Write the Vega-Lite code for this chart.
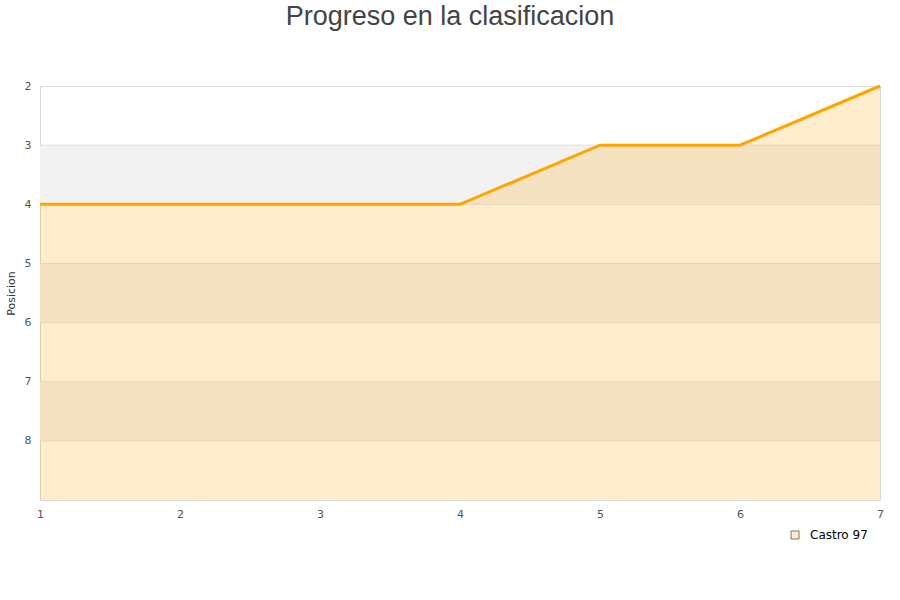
{
  "$schema": "https://vega.github.io/schema/vega-lite/v6.json",
  "autosize": "none",
  "width": 840,
  "height": 414,
  "padding": {"left": 40, "top": 86, "right": 20, "bottom": 100},
  "background": "white",
  "title": {
    "text": "Progreso en la clasificacion",
    "font": "Liberation Sans",
    "fontSize": 27,
    "fontWeight": "normal",
    "color": "#444444",
    "anchor": "middle",
    "dx": -10,
    "offset": 49
  },
  "config": {
    "view": {"stroke": "#d8d8d8", "strokeWidth": 1},
    "axis": {"labelFont": "DejaVu Sans", "titleFont": "DejaVu Sans"}
  },
  "datasets": {
    "progreso": [
      {"jornada": 1, "posicion": 4, "equipo": "Castro 97"},
      {"jornada": 2, "posicion": 4, "equipo": "Castro 97"},
      {"jornada": 3, "posicion": 4, "equipo": "Castro 97"},
      {"jornada": 4, "posicion": 4, "equipo": "Castro 97"},
      {"jornada": 5, "posicion": 3, "equipo": "Castro 97"},
      {"jornada": 6, "posicion": 3, "equipo": "Castro 97"},
      {"jornada": 7, "posicion": 2, "equipo": "Castro 97"}
    ],
    "bandas": [
      {"desde": 3, "hasta": 4},
      {"desde": 5, "hasta": 6},
      {"desde": 7, "hasta": 8}
    ],
    "rejilla": [
      {"nivel": 3}, {"nivel": 4}, {"nivel": 5}, {"nivel": 6}, {"nivel": 7}, {"nivel": 8}
    ]
  },
  "layer": [
    {
      "data": {"name": "bandas"},
      "mark": {"type": "rect", "fill": "#f2f2f2"},
      "encoding": {
        "y": {
          "field": "desde", "type": "quantitative",
          "scale": {"domain": [2, 9], "reverse": true, "zero": false, "nice": false},
          "axis": {
            "title": "Posicion",
            "titleFontSize": 11,
            "titleFontWeight": "normal",
            "titleColor": "#333333",
            "titlePadding": 8,
            "values": [2, 3, 4, 5, 6, 7, 8],
            "format": "d",
            "labelFontSize": 11,
            "labelColor": "#555555",
            "labelPadding": 9,
            "ticks": false,
            "domain": false,
            "grid": false
          }
        },
        "y2": {"field": "hasta"}
      }
    },
    {
      "data": {"name": "rejilla"},
      "mark": {"type": "rule", "stroke": "#e0e0e0", "strokeWidth": 1},
      "encoding": {
        "y": {"field": "nivel", "type": "quantitative"}
      }
    },
    {
      "data": {"name": "progreso"},
      "mark": {"type": "area", "fill": "#FFA500", "fillOpacity": 0.2, "interpolate": "linear"},
      "encoding": {
        "x": {
          "field": "jornada", "type": "quantitative",
          "scale": {"domain": [1, 7], "nice": false, "zero": false},
          "axis": {
            "title": null,
            "values": [1, 2, 3, 4, 5, 6, 7],
            "format": "d",
            "labelFlush": false,
            "labelFontSize": 11,
            "labelColor": "#555555",
            "labelPadding": 8,
            "ticks": false,
            "domain": false,
            "grid": false
          }
        },
        "y": {"field": "posicion", "type": "quantitative"},
        "y2": {"datum": 9}
      }
    },
    {
      "data": {"name": "progreso"},
      "mark": {"type": "line", "stroke": "#FFA500", "strokeWidth": 3},
      "encoding": {
        "x": {"field": "jornada", "type": "quantitative"},
        "y": {"field": "posicion", "type": "quantitative"}
      }
    },
    {
      "data": {"name": "progreso"},
      "mark": {"type": "point", "filled": true, "size": 0, "shape": "square", "stroke": "#777777", "strokeWidth": 1},
      "encoding": {
        "x": {"field": "jornada", "type": "quantitative"},
        "y": {"field": "posicion", "type": "quantitative"},
        "fill": {
          "field": "equipo", "type": "nominal",
          "scale": {"range": ["#ffecc8"]},
          "legend": {
            "title": null,
            "orient": "none",
            "legendX": 749,
            "legendY": 443,
            "symbolType": "square",
            "symbolSize": 64,
            "symbolStrokeColor": "#777777",
            "symbolStrokeWidth": 1,
            "symbolOpacity": 1,
            "labelFont": "DejaVu Sans",
            "labelFontSize": 12,
            "labelColor": "#000000",
            "labelOffset": 9
          }
        }
      }
    }
  ]
}
